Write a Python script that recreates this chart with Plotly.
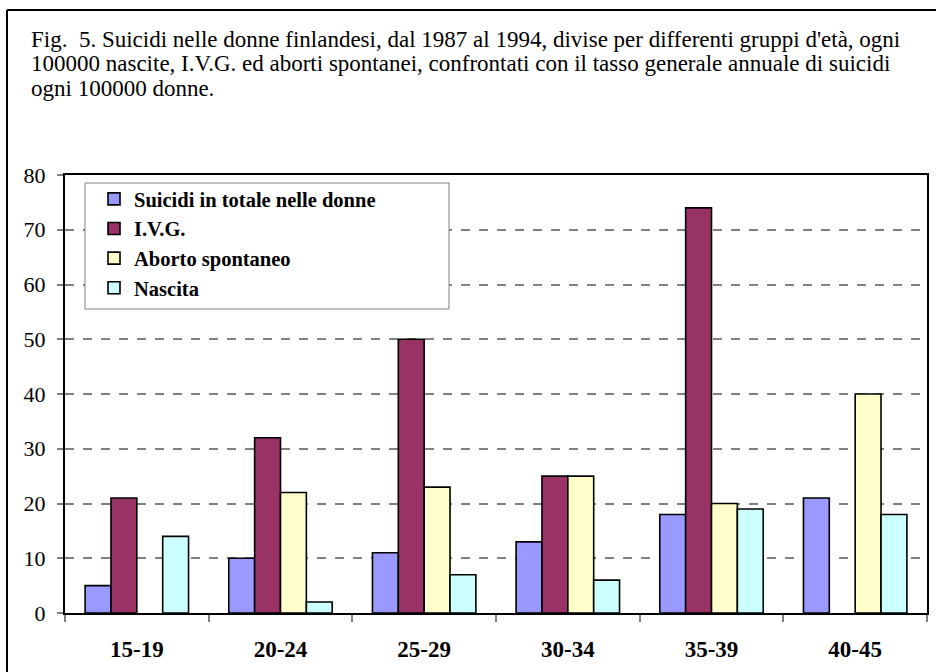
import plotly.graph_objects as go

categories = ["15-19", "20-24", "25-29", "30-34", "35-39", "40-45"]
suicidi_totale = [5, 10, 11, 13, 18, 21]
ivg = [21, 32, 50, 25, 74, None]
aborto_spontaneo = [None, 22, 23, 25, 20, 40]
nascita = [14, 2, 7, 6, 19, 18]

series_names = ["Suicidi in totale nelle donne", "I.V.G.", "Aborto spontaneo", "Nascita"]
series_values = [suicidi_totale, ivg, aborto_spontaneo, nascita]
series_colors = ["#9999FF", "#993366", "#FFFFCC", "#CCFFFF"]

title_lines = [
    "Fig.  5. Suicidi nelle donne finlandesi, dal 1987 al 1994, divise per differenti gruppi d'età, ogni",
    "100000 nascite, I.V.G. ed aborti spontanei, confrontati con il tasso generale annuale di suicidi",
    "ogni 100000 donne.",
]

SERIF = "Liberation Serif"

W, H = 936, 672
SL, SR, ST, SB = 65, 927, 175, 613  # plot area in px
L, T, R, B = SL, ST, W - SR, H - SB

def sx(px):
    return (px - SL) / (SR - SL)

def sy(py):
    return (SB - py) / (SB - ST)

fig = go.Figure()
for name, vals, col in zip(series_names, series_values, series_colors):
    fig.add_trace(go.Bar(
        x=categories, y=vals, name=name,
        marker=dict(color=col, line=dict(color="black", width=1.6)),
    ))

annotations = []
for i, line in enumerate(title_lines):
    annotations.append(dict(
        xref="paper", yref="paper", x=sx(29), y=sy(49 + 24.5 * i),
        xanchor="left", yanchor="bottom", align="left", showarrow=False,
        text=line, font=dict(family=SERIF, size=23, color="black"),
        yshift=-5,
    ))

fig.update_layout(
    width=W, height=H,
    margin=dict(l=L, r=R, t=T, b=B, autoexpand=False),
    paper_bgcolor="white", plot_bgcolor="white",
    barmode="group", bargap=0.28, bargroupgap=0,
    font=dict(family=SERIF, color="black", size=21),
    showlegend=True,
    legend=dict(
        x=sx(94), y=sy(179), xanchor="left", yanchor="top",
        bgcolor="rgba(0,0,0,0)", borderwidth=0,
        font=dict(family=SERIF, size=20.5, color="black", weight="bold"),
        tracegroupgap=0,
    ),
    xaxis=dict(
        type="category", tickson="boundaries", ticks="outside", ticklen=7,
        tickcolor="#808080", tickwidth=1.5,
        showline=True, linecolor="black", linewidth=2, mirror=True,
        showgrid=False,
        tickfont=dict(family=SERIF, size=23, color="black", weight="bold"),
        ticklabelstandoff=14,
        fixedrange=True,
    ),
    yaxis=dict(
        range=[0, 80], dtick=10, tick0=0, ticks="outside", ticklen=6,
        tickcolor="#808080", tickwidth=1.5,
        showline=True, linecolor="black", linewidth=2, mirror=True,
        showgrid=True, gridcolor="#808080", gridwidth=1.5, griddash="dash",
        zeroline=False,
        tickfont=dict(family=SERIF, size=22, color="black"),
        ticklabelstandoff=7,
        fixedrange=True,
    ),
    shapes=[
        dict(type="line", xref="paper", yref="paper",
             x0=sx(7), x1=sx(940), y0=sy(10), y1=sy(10),
             line=dict(color="black", width=2)),
        dict(type="line", xref="paper", yref="paper",
             x0=sx(7), x1=sx(7), y0=sy(10), y1=sy(700),
             line=dict(color="black", width=2)),
        dict(type="rect", xref="paper", yref="paper",
             x0=sx(85), x1=sx(449), y0=sy(309), y1=sy(183),
             line=dict(color="#808080", width=1), fillcolor="white", layer="above"),
    ],
    annotations=annotations,
)

fig.write_html("out.html", config={"displayModeBar": False},
               post_script="document.body.style.margin='0px';")
